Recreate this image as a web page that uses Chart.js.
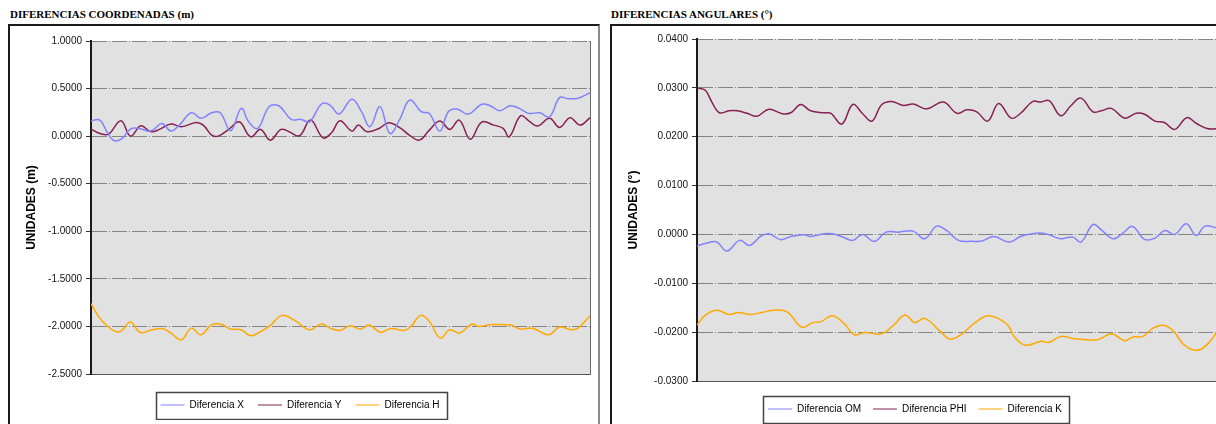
<!DOCTYPE html>
<html>
<head>
<meta charset="utf-8">
<script src="https://cdn.jsdelivr.net/npm/chart.js@4.4.1/dist/chart.umd.min.js"></script>
<style>
  html, body { margin: 0; padding: 0; background: #fff; width: 1216px; height: 424px; overflow: hidden; position: relative; }
  .ttl { position: absolute; top: 9px; font: bold 11px "Liberation Serif", "Times New Roman", serif; color: #000; white-space: nowrap; line-height: 11px; }
  .box { position: absolute; top: 24px; height: 420px; border: 2px solid #1a1a1a; box-sizing: border-box; }
  .cv { position: absolute; top: 26px; }
  canvas { display: block; }
</style>
</head>
<body>
<div class="ttl" style="left:10px">DIFERENCIAS COORDENADAS (m)</div>
<div class="ttl" style="left:611px">DIFERENCIAS ANGULARES (°)</div>
<div class="box" style="left:8px;width:592px;border-right-color:#8a8a8a"></div>
<div class="box" style="left:610px;width:618px"></div>
<div class="cv" style="left:10px"><canvas id="cCoord" width="588" height="394"></canvas></div>
<div class="cv" style="left:612px"><canvas id="cAng" width="614" height="398"></canvas></div>

<script>
// ---- Diferencias coordenadas (m): position along the strip (0-100) and value ----
const coordTicks = [1.0, 0.5, 0.0, -0.5, -1.0, -1.5, -2.0, -2.5];

const posX = [0, 1.8, 3.2, 4.7, 6.2, 7.9, 9.6, 12.0, 14.2, 16.0, 17.7, 20.1, 22.1, 24.2, 25.9, 28.0, 30.1, 31.6, 33.4, 35.7,
  37.7, 40.1, 42.1, 43.8, 46.2, 47.9, 49.7, 52.3, 54.2, 55.9, 57.9, 59.9, 61.8, 63.9, 66.2, 67.8, 69.9, 71.6, 73.3, 75.6,
  78.3, 80.0, 81.9, 84.0, 85.8, 87.8, 89.9, 91.9, 93.9, 95.6, 97.6, 100];
const difX = [0.162, 0.169, 0.046, -0.049, -0.025, 0.074, 0.081, 0.053, 0.134, 0.053, 0.116, 0.246, 0.187, 0.246, 0.246, 0.056, 0.292, 0.151, 0.081, 0.310,
  0.317, 0.176, 0.176, 0.151, 0.338, 0.327, 0.232, 0.387, 0.257, 0.099, 0.310, 0.028, 0.169, 0.380, 0.257, 0.239, 0.053, 0.257, 0.285, 0.232,
  0.335, 0.320, 0.268, 0.320, 0.292, 0.239, 0.246, 0.204, 0.405, 0.394, 0.398, 0.458];

const posY = [0, 1.8, 3.5, 6.0, 7.9, 10.0, 12.0, 13.7, 16.0, 18.1, 21.1, 22.5, 24.2, 25.5, 27.6, 29.7, 32.0, 34.0, 35.9, 38.1,
  39.7, 41.8, 44.0, 46.5, 48.2, 49.9, 52.3, 53.6, 55.3, 57.7, 59.7, 62.1, 63.8, 65.8, 67.8, 69.9, 71.9, 73.8, 76.0, 78.3,
  80.7, 82.6, 83.8, 86.1, 87.8, 89.5, 91.9, 93.9, 96.0, 98.0, 100];
const difY = [0.074, 0.028, 0.021, 0.162, 0.000, 0.109, 0.046, 0.071, 0.127, 0.099, 0.144, 0.116, 0.011, 0.000, 0.071, 0.151, -0.007, 0.071, -0.042, 0.071,
  0.046, 0.004, 0.169, -0.018, 0.035, 0.162, 0.053, 0.116, 0.046, 0.081, 0.141, 0.081, 0.011, -0.042, 0.063, 0.158, 0.071, 0.169, -0.032, 0.148,
  0.116, 0.081, -0.007, 0.215, 0.158, 0.106, 0.187, 0.092, 0.194, 0.116, 0.194];

const posH = [0, 1.5, 3.2, 4.9, 6.1, 7.9, 9.9, 12.3, 14.4, 16.0, 18.1, 20.1, 22.0, 24.2, 26.2, 27.9, 30.1, 32.0, 34.0, 35.7,
  38.3, 40.8, 43.8, 46.2, 47.9, 49.9, 51.9, 54.0, 55.7, 58.0, 60.1, 62.8, 64.1, 66.1, 67.8, 70.0, 71.9, 73.9, 76.3, 77.7,
  80.0, 84.1, 86.1, 88.5, 91.7, 93.9, 96.3, 97.6, 100];
const difH = [-1.761, -1.894, -1.993, -2.053, -2.046, -1.954, -2.063, -2.035, -2.025, -2.070, -2.141, -2.018, -2.088, -1.982, -1.979, -2.028, -2.035, -2.099, -2.053, -2.000,
  -1.884, -1.937, -2.035, -1.975, -2.018, -2.042, -1.993, -2.028, -1.986, -2.060, -2.021, -2.042, -2.000, -1.884, -1.947, -2.123, -2.035, -2.070, -1.975, -2.000,
  -1.982, -1.986, -2.028, -2.018, -2.088, -2.007, -2.035, -2.018, -1.887];

// ---- Diferencias angulares (°) ----
const angTicks = [0.04, 0.03, 0.02, 0.01, 0.0, -0.01, -0.02, -0.03];

const posOM = [0, 1.9, 3.8, 5.7, 8.2, 10.1, 12.2, 13.8, 16.1, 18.0, 20.6, 21.8, 24.4, 26.0, 28.0, 29.9, 31.8, 34.0, 36.3, 38.6,
  41.5, 43.7, 46.0, 47.9, 50.2, 52.8, 54.7, 57.0, 59.9, 62.1, 64.4, 66.0, 67.6, 69.8, 72.1, 73.7, 76.0, 77.6, 79.9, 81.8,
  83.6, 85.9, 87.9, 89.8, 91.7, 93.9, 95.8, 97.5, 99.7];
const difOM = [-0.00237, -0.00176, -0.00156, -0.00339, -0.00122, -0.00224, -0.00041, 0.00014, -0.00108, -0.00041,
  -0.00007, -0.00041, 0.00014, 0.00014, -0.00054, -0.00122, 0.00000, -0.00142, 0.00047, 0.00047,
  0.00068, -0.00088, 0.00170, 0.00081, -0.00122, -0.00142, -0.00136, -0.00041, -0.00156, -0.00041,
  0.00014, 0.00027, -0.00007, -0.00088, -0.00054, -0.00156, 0.00203, 0.00095, -0.00088, 0.00034,
  0.00163, -0.00102, -0.00075, 0.00081, 0.00000, 0.00217, -0.00020, 0.00170, 0.00136];

const posPHI = [0, 1.6, 2.8, 4.3, 6.1, 7.7, 9.6, 11.5, 13.8, 16.4, 18.0, 19.9, 21.8, 24.4, 25.7, 27.8, 29.9, 31.8, 33.6, 35.4,
  37.3, 39.6, 41.5, 44.1, 47.3, 49.9, 51.8, 53.7, 55.8, 57.9, 60.3, 62.1, 64.4, 66.0, 67.6, 69.8, 71.8, 73.7, 76.0, 77.6,
  79.5, 82.1, 84.3, 85.9, 87.9, 89.7, 91.7, 94.0, 95.9, 97.9, 99.7];
const difPHI = [0.0300, 0.0295, 0.0272, 0.0249, 0.0253, 0.0253, 0.0248, 0.0242, 0.0256, 0.0247,
  0.0249, 0.0266, 0.0253, 0.0249, 0.0248, 0.0226, 0.0266, 0.0247, 0.0232, 0.0265,
  0.0272, 0.0264, 0.0267, 0.0257, 0.0271, 0.0248, 0.0255, 0.0251, 0.0232, 0.0268,
  0.0238, 0.0248, 0.0272, 0.0271, 0.0274, 0.0243, 0.0264, 0.0279, 0.0251, 0.0253,
  0.0258, 0.0238, 0.0248, 0.0246, 0.0232, 0.0229, 0.0215, 0.0239, 0.0227, 0.0217, 0.0216];

const posK = [0, 1.6, 3.8, 6.1, 8.0, 10.3, 12.5, 14.8, 17.3, 20.1, 22.2, 23.8, 26.0, 28.3, 30.2, 32.2, 35.4, 37.6, 39.9, 41.8,
  43.7, 46.6, 48.6, 50.8, 53.4, 56.0, 59.5, 61.1, 63.1, 66.0, 67.6, 69.8, 72.4, 76.9, 79.5, 82.1, 83.7, 85.6, 87.5, 89.5,
  91.4, 93.3, 95.0, 96.6, 98.5, 99.7];
const difK = [-0.01852, -0.01651, -0.01550, -0.01638, -0.01597, -0.01638, -0.01597, -0.01550, -0.01584, -0.01899,
  -0.01805, -0.01785, -0.01664, -0.01832, -0.02054, -0.02007, -0.02034, -0.01872, -0.01651, -0.01805,
  -0.01718, -0.01973, -0.02141, -0.02040, -0.01805, -0.01664, -0.01839, -0.02121, -0.02268, -0.02188,
  -0.02208, -0.02087, -0.02134, -0.02154, -0.02034, -0.02174, -0.02100, -0.02087, -0.01919, -0.01859,
  -0.01973, -0.02242, -0.02356, -0.02356, -0.02188, -0.02000];

const COL_BLUE = '#8282ff';
const COL_PLUM = '#862055';
const COL_ORANGE = '#ffa800';
const FONT = '"Liberation Sans", Arial, sans-serif';

const pairs = (xs, ys) => xs.map((x, i) => ({ x: x, y: ys[i] }));

// grey plot background, thin right edge, and a framed legend
const framePlugin = {
  id: 'frame',
  beforeDraw(chart) {
    const { ctx, chartArea: a } = chart;
    ctx.save();
    ctx.fillStyle = '#e1e1e1';
    ctx.fillRect(a.left, a.top, a.right - a.left, a.bottom - a.top);
    ctx.restore();
  },
  afterDraw(chart) {
    const { ctx, chartArea: a, legend } = chart;
    ctx.save();
    ctx.strokeStyle = '#6a6a6a';
    ctx.lineWidth = 1;
    ctx.beginPath();
    ctx.moveTo(Math.round(a.right) + 0.5, a.top);
    ctx.lineTo(Math.round(a.right) + 0.5, a.bottom);
    ctx.stroke();
    const hb = legend.legendHitBoxes;
    if (hb && hb.length) {
      const l = Math.min(...hb.map(h => h.left)) - 5;
      const r = Math.max(...hb.map(h => h.left + h.width)) + 7;
      const cy = hb[0].top + hb[0].height / 2;
      ctx.strokeStyle = '#444';
      ctx.lineWidth = 1.5;
      ctx.strokeRect(Math.round(l) + 0.5, Math.round(cy - 13) + 0.5, Math.round(r - l), 27);
    }
    ctx.restore();
  }
};

function makeChart(id, cfg) {
  return new Chart(document.getElementById(id), {
    type: 'line',
    data: { datasets: cfg.datasets },
    plugins: [framePlugin],
    options: {
      responsive: false,
      animation: false,
      events: [],
      layout: { padding: { top: cfg.padTop, right: 8, bottom: 0, left: 0 } },
      elements: {
        point: { radius: 0 },
        line: { tension: 0.4, borderWidth: 1.5, fill: false }
      },
      plugins: {
        tooltip: { enabled: false },
        legend: {
          position: 'bottom',
          labels: {
            usePointStyle: true,
            pointStyle: 'line',
            pointStyleWidth: 24,
            boxHeight: 10,
            padding: cfg.legendPad,
            color: '#000',
            font: { family: FONT, size: 10 }
          }
        }
      },
      scales: {
        x: {
          type: 'linear',
          min: 0,
          max: 100,
          ticks: { display: false },
          grid: { display: false },
          border: { color: '#555', width: 1 },
          afterFit(s) { s.height = cfg.xHeight; }
        },
        y: {
          type: 'linear',
          min: cfg.ticks[cfg.ticks.length - 1],
          max: cfg.ticks[0],
          afterBuildTicks(s) { s.ticks = cfg.ticks.map(v => ({ value: v })); },
          afterFit(s) { s.width = cfg.yWidth; },
          ticks: {
            callback: v => v.toFixed(4),
            color: '#111',
            padding: 4,
            font: { family: FONT, size: 10 }
          },
          grid: {
            color: '#858585',
            lineWidth: 1,
            tickLength: 5,
            tickColor: '#333',
            tickWidth: 1
          },
          border: { color: '#1a1a1a', width: 2, dash: [15, 2, 1, 2] },
          title: {
            display: true,
            text: cfg.yTitle,
            color: '#000',
            font: { family: FONT, size: 12, weight: 'bold' },
            padding: { top: 14, bottom: 0 }
          }
        }
      }
    }
  });
}

makeChart('cCoord', {
  ticks: coordTicks,
  yTitle: 'UNIDADES (m)',
  yWidth: 81,
  xHeight: 12,
  padTop: 15,
  legendPad: 14,
  datasets: [
    { label: 'Diferencia X', data: pairs(posX, difX), borderColor: COL_BLUE, backgroundColor: COL_BLUE },
    { label: 'Diferencia Y', data: pairs(posY, difY), borderColor: COL_PLUM, backgroundColor: COL_PLUM },
    { label: 'Diferencia H', data: pairs(posH, difH), borderColor: COL_ORANGE, backgroundColor: COL_ORANGE }
  ]
});

makeChart('cAng', {
  ticks: angTicks,
  yTitle: 'UNIDADES (°)',
  yWidth: 85,
  xHeight: 11,
  padTop: 13,
  legendPad: 12,
  datasets: [
    { label: 'Diferencia OM', data: pairs(posOM, difOM), borderColor: COL_BLUE, backgroundColor: COL_BLUE },
    { label: 'Diferencia PHI', data: pairs(posPHI, difPHI), borderColor: COL_PLUM, backgroundColor: COL_PLUM },
    { label: 'Diferencia K', data: pairs(posK, difK), borderColor: COL_ORANGE, backgroundColor: COL_ORANGE }
  ]
});
</script>
</body>
</html>
